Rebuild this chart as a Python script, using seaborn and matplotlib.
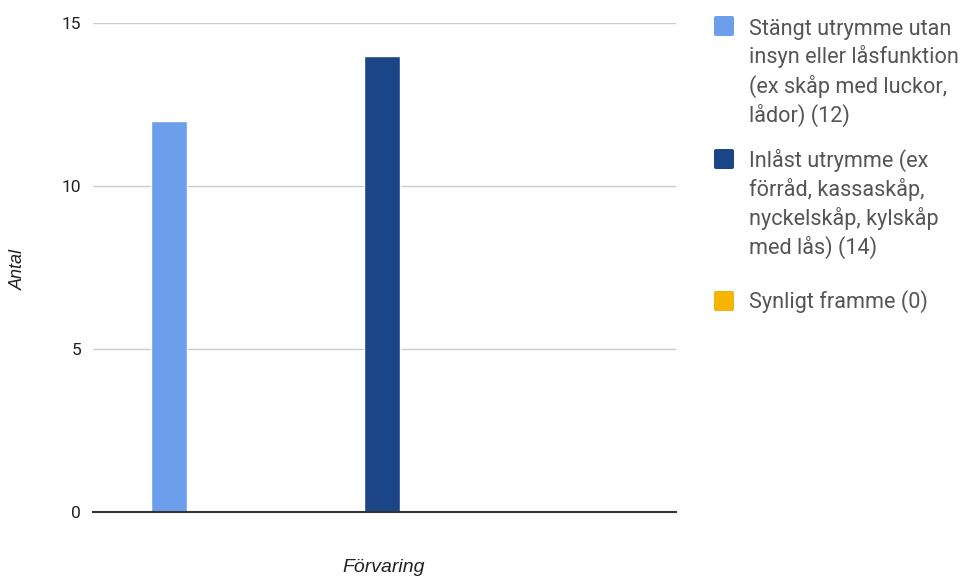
import matplotlib
matplotlib.use("Agg")
import matplotlib.pyplot as plt
import seaborn as sns
import pandas as pd
from matplotlib.patches import FancyBboxPatch
from matplotlib.transforms import IdentityTransform

# Data
category = ["Förvaring"]
series_labels = [
    "Stängt utrymme utan\ninsyn eller låsfunktion\n(ex skåp med luckor,\nlådor) (12)",
    "Inlåst utrymme (ex\nförråd, kassaskåp,\nnyckelskåp, kylskåp\nmed lås) (14)",
    "Synligt framme (0)",
]
series_values = [12, 14, 0]
series_colors = ["#6d9eeb", "#1c4587", "#f4b400"]
y_ticks = [0, 5, 10, 15]

df = pd.DataFrame({
    "Förvaring": category * len(series_values),
    "serie": series_labels,
    "Antal": series_values,
})

W, H = 962, 579
sns.set_theme(style="white")
plt.rcParams["font.family"] = ["Roboto", "DejaVu Sans"]

fig = plt.figure(figsize=(W / 100, H / 100), dpi=100)
ax = fig.add_axes([93 / W, 1 - 512 / H, (676 - 93) / W, (512 - 23) / H])

sns.barplot(
    data=df, x="Förvaring", y="Antal", hue="serie",
    palette=series_colors, width=1.0, gap=0.83, dodge=True,
    saturation=1, legend=False, ax=ax,
)

ax.set_xlim(-0.453, 0.461)
ax.set_ylim(0, 15)
ax.set_yticks(y_ticks)
ax.set_yticklabels([str(t) for t in y_ticks], fontsize=12.5, color="#222222")
ax.set_xticks([])
ax.yaxis.grid(True, color="#cccccc", linewidth=1)
ax.set_axisbelow(True)
ax.tick_params(axis="y", length=0, pad=8.5)
for side in ["top", "right", "left"]:
    ax.spines[side].set_visible(False)
ax.spines["bottom"].set_color("#333333")
ax.spines["bottom"].set_linewidth(1.5)
ax.set_xlabel("")
ax.set_ylabel("")

# Axis titles
title_font = ["Liberation Sans", "DejaVu Sans"]
fig.text(384 / W, 1 - 568 / H, "Förvaring", ha="center", va="center",
         fontsize=14, fontstyle="italic", color="#222222", family=title_font)
fig.text(18 / W, 1 - 270 / H, "Antal", ha="center", va="center", rotation=90,
         fontsize=13, fontstyle="italic", color="#222222", family=title_font)

# Legend: rounded swatches and wrapped labels, one text per line
swatch_tops = [16, 149, 291]
text_baselines = [34.5, 167, 307.5]
line_step = 29
for label, color, top, base in zip(series_labels, series_colors, swatch_tops, text_baselines):
    fig.patches.append(FancyBboxPatch(
        (714, H - top - 20), 20, 20,
        boxstyle="round,pad=0,rounding_size=2",
        facecolor=color, edgecolor="none",
        transform=IdentityTransform(), figure=fig,
    ))
    for i, line in enumerate(label.split("\n")):
        fig.text(749 / W, 1 - (base + i * line_step) / H, line,
                 ha="left", va="baseline", fontsize=15.6, color="#555555")

fig.savefig("out.png", dpi=100)
